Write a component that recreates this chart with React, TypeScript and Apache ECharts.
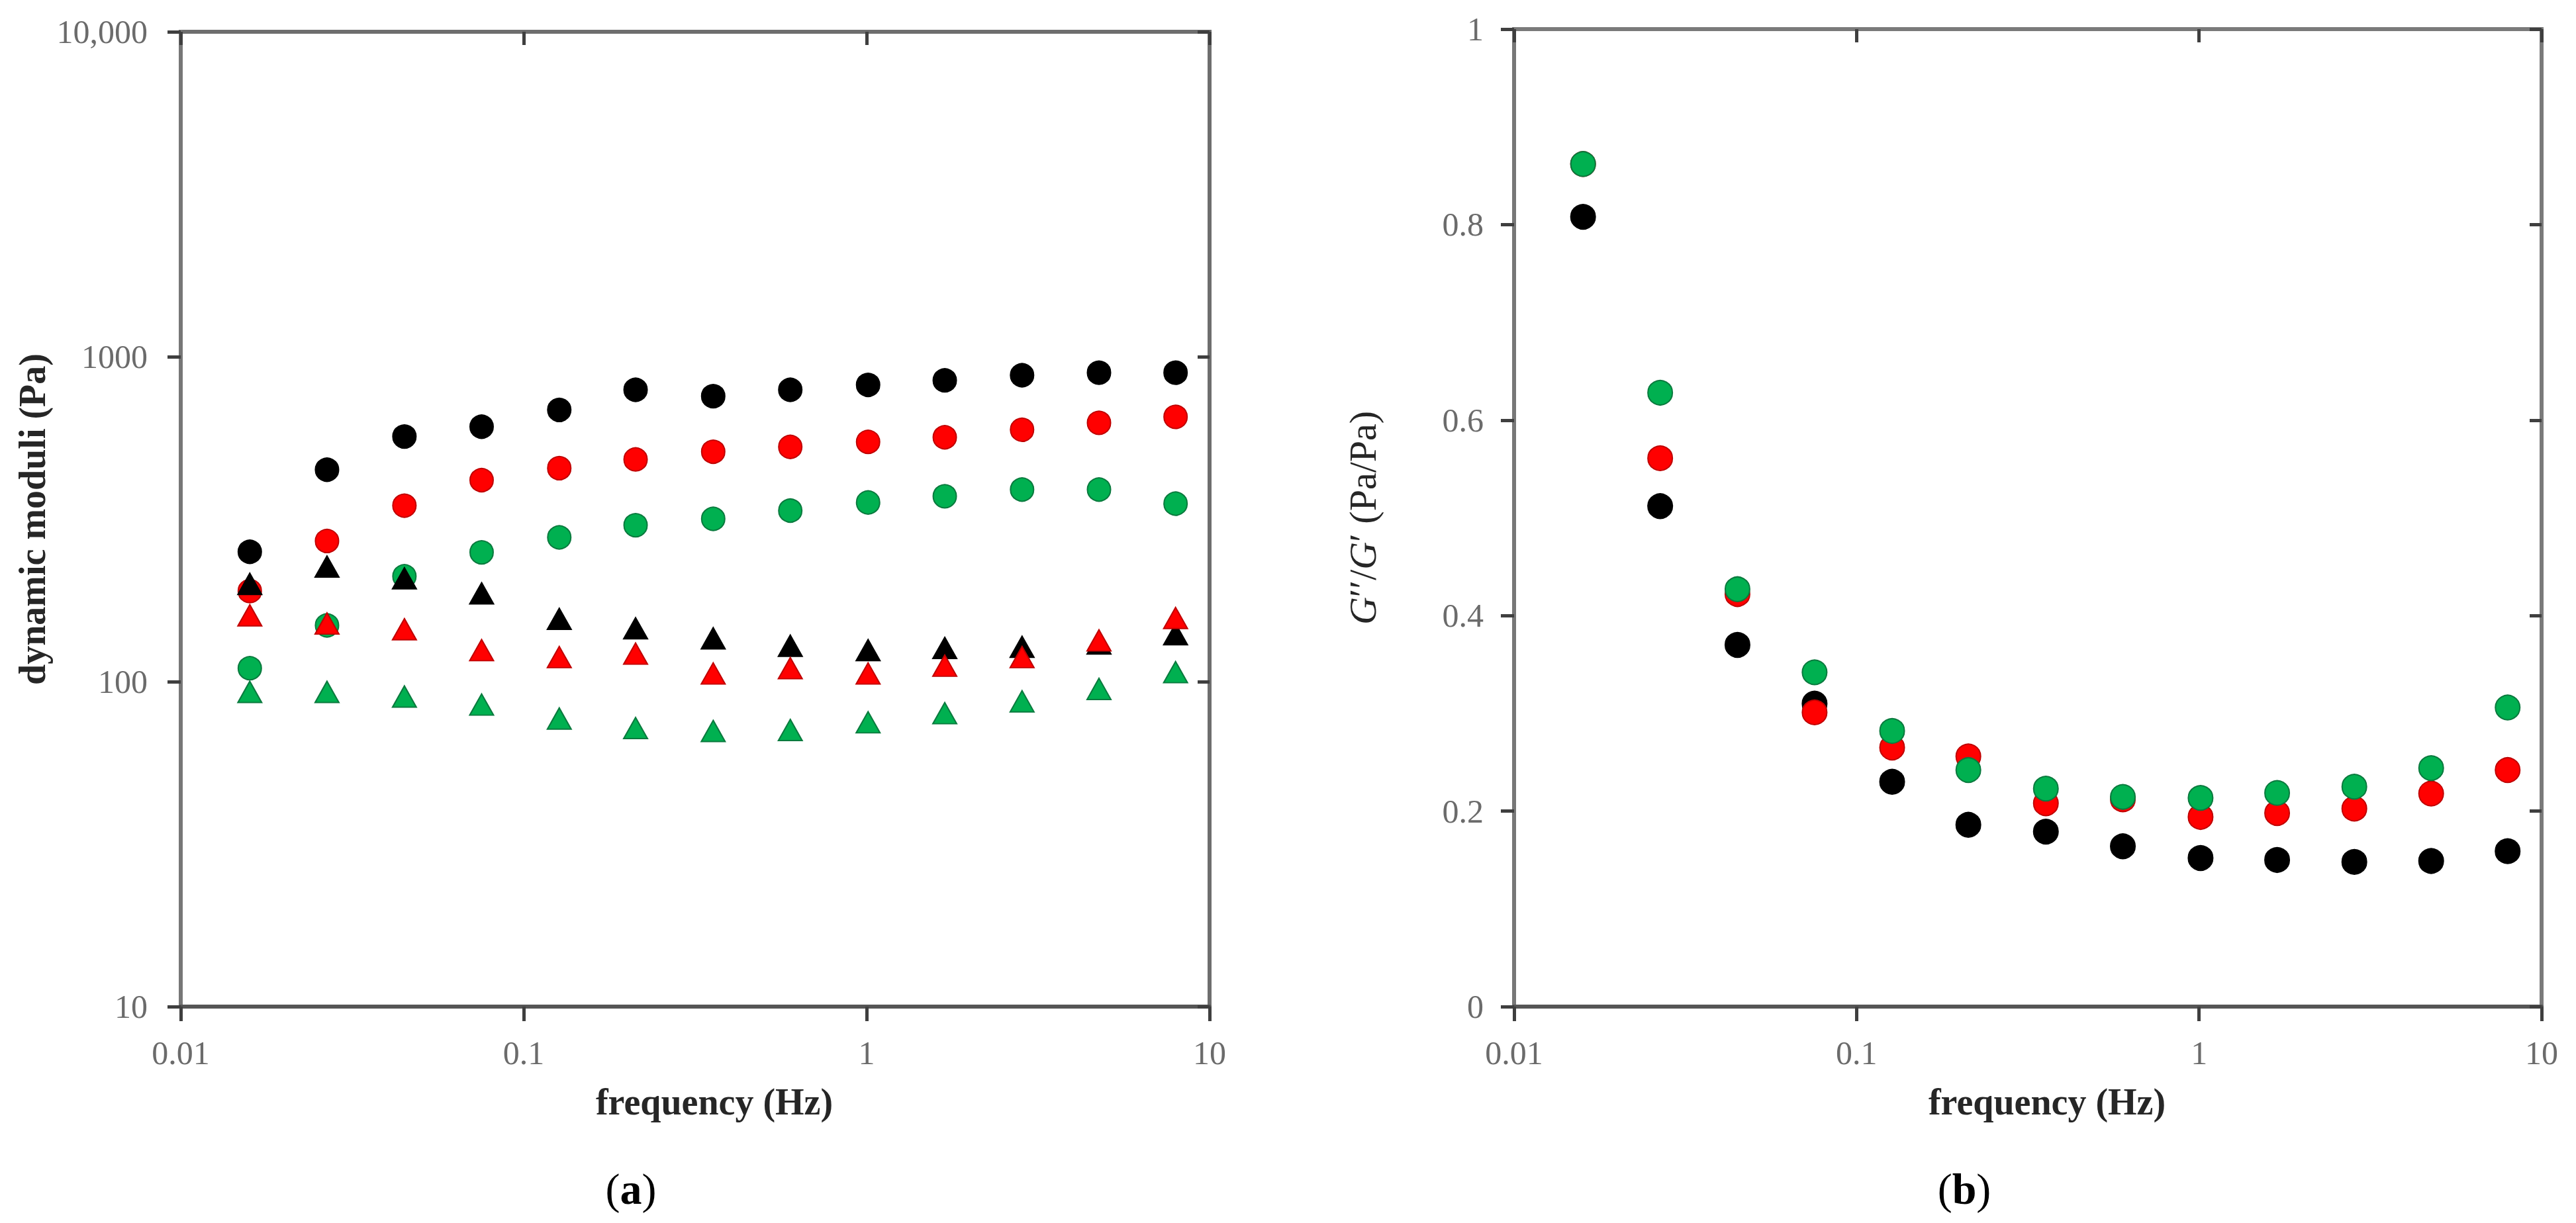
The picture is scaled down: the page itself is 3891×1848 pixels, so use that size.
import React, { useEffect, useRef } from "react";
import * as echarts from "echarts";

// frequency (Hz)
const freqHz = [0.0159, 0.0267, 0.0449, 0.0754, 0.127, 0.212, 0.357, 0.599, 1.01, 1.69, 2.84, 4.76, 7.96];

// (a) dynamic moduli (Pa)
const gPrimeBlack = [251, 449, 568, 609, 686, 791, 756, 791, 819, 846, 877, 893, 893];
const gPrimeRed = [190, 271, 348, 417, 454, 483, 510, 528, 547, 565, 596, 626, 653];
const gPrimeGreen = [110, 149, 211, 250, 278, 303, 317, 336, 356, 372, 390, 390, 353];
const gDoubleBlack = [200, 226, 208, 187, 156, 146, 136, 129, 125, 127, 128, 131, 140];
const gDoubleRed = [160, 151, 145, 125, 119, 122, 106, 110, 106, 112, 119, 134, 157];
const gDoubleGreen = [93, 93, 90, 85, 77, 72, 70.5, 71, 75, 80, 87, 95, 107];

// (b) G''/G' (Pa/Pa)
const tanBlack = [0.808, 0.512, 0.37, 0.31, 0.23, 0.186, 0.179, 0.164, 0.152, 0.15, 0.148, 0.149, 0.159];
const tanRed = [0.862, 0.561, 0.422, 0.301, 0.265, 0.256, 0.208, 0.212, 0.194, 0.198, 0.2025, 0.218, 0.242];
const tanGreen = [0.862, 0.628, 0.427, 0.342, 0.282, 0.242, 0.223, 0.2145, 0.2135, 0.2186, 0.225, 0.244, 0.306];

const xTickLabels = ["0.01", "0.1", "1", "10"];
const yLogTickLabels = ["10", "100", "1000", "10,000"];

const BLACK = "#000000";
const RED = "#FF0000";
const GREEN = "#00B050";
const FONT = "Liberation Serif";

const pairs = (ys: number[]) => freqHz.map((x, i) => [x, ys[i]]);

export default function App() {
  const ref = useRef<HTMLDivElement>(null);
  useEffect(() => {
    document.body.style.margin = "0";
    const chart = echarts.init(ref.current!, null, { renderer: "svg" });

    const tickLabel = { fontSize: 50, color: "#6b6b6b", fontFamily: FONT };
    const tickStyle = { color: "#3f3f3f", width: 5 };
    const xFmt = (v: number) => xTickLabels[Math.round(Math.log10(v)) + 2] ?? "";
    const yFmt = (v: number) => yLogTickLabels[Math.round(Math.log10(v)) - 1] ?? "";

    const xAxisMain = (gi: number) => ({
      gridIndex: gi,
      type: "log",
      logBase: 10,
      min: 0.01,
      max: 10,
      name: "frequency (Hz)",
      nameLocation: "middle",
      nameGap: 116,
      nameTextStyle: { fontSize: 56, fontWeight: "bold", color: "#262626", fontFamily: FONT, padding: [0, 0, 0, 58] },
      axisLine: { onZero: false, lineStyle: { color: "#555555", width: 6 } },
      axisTick: { show: true, length: 22, lineStyle: tickStyle },
      axisLabel: { ...tickLabel, margin: 45, formatter: xFmt },
      splitLine: { show: false },
      minorTick: { show: false },
    });
    const xAxisInner = (gi: number) => ({
      gridIndex: gi,
      type: "log",
      logBase: 10,
      min: 0.01,
      max: 10,
      axisLine: { show: false, onZero: false },
      axisTick: { show: true, inside: true, length: 20, lineStyle: tickStyle },
      axisLabel: { show: false },
      splitLine: { show: false },
    });

    const option: any = {
      animation: false,
      backgroundColor: "#ffffff",
      textStyle: { fontFamily: FONT },
      grid: [
        { left: 273, top: 48, width: 1554, height: 1473, show: true, borderColor: "#6e6e6e", borderWidth: 6, containLabel: false },
        { left: 2287, top: 44, width: 1552, height: 1477, show: true, borderColor: "#7a7a7a", borderWidth: 6, containLabel: false },
      ],
      xAxis: [xAxisMain(0), xAxisInner(0), xAxisMain(1), xAxisInner(1)],
      yAxis: [
        {
          gridIndex: 0,
          type: "log",
          logBase: 10,
          min: 10,
          max: 10000,
          name: "dynamic moduli (Pa)",
          nameLocation: "middle",
          nameGap: 196,
          nameTextStyle: { fontSize: 56, fontWeight: "bold", color: "#262626", fontFamily: FONT },
          axisLine: { onZero: false, lineStyle: { color: "#777777", width: 6 } },
          axisTick: { show: true, length: 20, lineStyle: tickStyle },
          axisLabel: { ...tickLabel, margin: 50, formatter: yFmt },
          splitLine: { show: false },
        },
        {
          gridIndex: 0,
          type: "log",
          logBase: 10,
          min: 10,
          max: 10000,
          axisLine: { show: false, onZero: false },
          axisTick: { show: true, inside: true, length: 18, lineStyle: tickStyle },
          axisLabel: { show: false },
          splitLine: { show: false },
        },
        {
          gridIndex: 1,
          type: "value",
          min: 0,
          max: 1,
          interval: 0.2,
          name: "{i|G}′′/{i|G}′ (Pa/Pa)",
          nameLocation: "middle",
          nameGap: 200,
          nameTextStyle: {
            fontSize: 58,
            color: "#262626",
            fontFamily: FONT,
            rich: { i: { fontSize: 58, fontStyle: "italic", color: "#262626", fontFamily: FONT } },
          },
          axisLine: { onZero: false, lineStyle: { color: "#777777", width: 6 } },
          axisTick: { show: true, length: 20, lineStyle: tickStyle },
          axisLabel: { ...tickLabel, margin: 46 },
          splitLine: { show: false },
        },
        {
          gridIndex: 1,
          type: "value",
          min: 0,
          max: 1,
          interval: 0.2,
          axisLine: { show: false, onZero: false },
          axisTick: { show: true, inside: true, length: 18, lineStyle: tickStyle },
          axisLabel: { show: false },
          splitLine: { show: false },
        },
      ],
      graphic: [
        {
          type: "text",
          x: 953,
          y: 1796,
          style: {
            text: "({b|a})",
            font: `66px ${FONT}`,
            fill: "#000",
            align: "center",
            verticalAlign: "middle",
            rich: { b: { fontSize: 66, fontWeight: "bold", fontFamily: FONT, fill: "#000" } },
          },
        },
        {
          type: "text",
          x: 2967,
          y: 1796,
          style: {
            text: "({b|b})",
            font: `66px ${FONT}`,
            fill: "#000",
            align: "center",
            verticalAlign: "middle",
            rich: { b: { fontSize: 66, fontWeight: "bold", fontFamily: FONT, fill: "#000" } },
          },
        },
      ],
      series: [] as any[],
    };

    const circle = (name: string, ys: number[], color: string, border: string, xi: number, yi: number, size: number) => ({
      name,
      type: "scatter",
      xAxisIndex: xi,
      yAxisIndex: yi,
      symbol: "circle",
      symbolSize: size,
      itemStyle: { color, borderColor: border, borderWidth: 2, opacity: 1 },
      data: pairs(ys),
    });
    const tri = (name: string, ys: number[], color: string, border: string) => ({
      name,
      type: "scatter",
      xAxisIndex: 0,
      yAxisIndex: 0,
      symbol: "triangle",
      symbolSize: [36, 32],
      itemStyle: { color, borderColor: border, borderWidth: 2, opacity: 1 },
      data: pairs(ys),
    });

    option.series = [
      circle("G′ green", gPrimeGreen, GREEN, "#0a7a3e", 0, 0, 35),
      circle("G′ red", gPrimeRed, RED, "#c00000", 0, 0, 35),
      circle("G′ black", gPrimeBlack, BLACK, "#000000", 0, 0, 35),
      tri("G′′ green", gDoubleGreen, GREEN, "#0a7a3e"),
      tri("G′′ black", gDoubleBlack, BLACK, "#000000"),
      tri("G′′ red", gDoubleRed, RED, "#c00000"),
      circle("G′′/G′ black", tanBlack, BLACK, "#000000", 2, 2, 37),
      circle("G′′/G′ red", tanRed, RED, "#c00000", 2, 2, 37),
      circle("G′′/G′ green", tanGreen, GREEN, "#0a7a3e", 2, 2, 37),
    ];

    chart.setOption(option);
    return () => chart.dispose();
  }, []);

  return <div ref={ref} style={{ width: 3891, height: 1848, background: "#fff" }} />;
}
